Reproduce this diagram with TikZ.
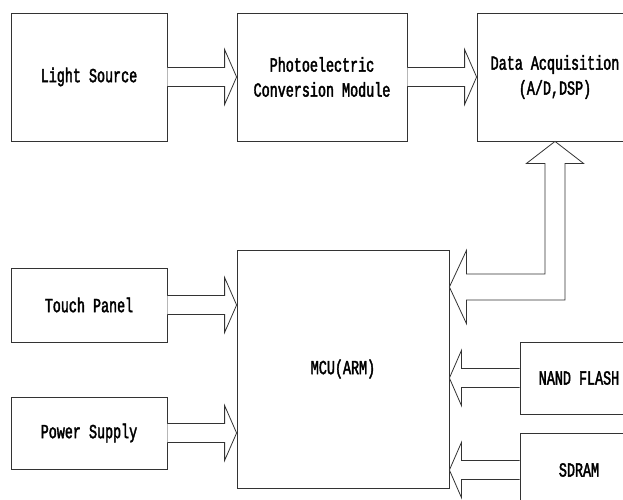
\documentclass[tikz,border=0pt]{standalone}
\usepackage{fontspec}
\newfontfamily\diafont[FakeStretch=0.67, FakeBold=2]{Liberation Mono}
\usetikzlibrary{calc}
\tikzset{
  box/.style={draw=black!80, line width=0.8pt, fill=white, inner sep=0pt, align=center},
  blk/.style={draw=black!80, line width=0.8pt, fill=white, line join=miter},
  lbl/.style={font=\diafont\fontsize{20}{25}\selectfont, align=center, inner sep=0pt}
}
% horizontal block arrow: #1 start, #2 tip
\newcommand\harr[2]{%
  \draw[blk] let \p1=(#1), \p2=(#2), \n1={sign(\x2-\x1)} in
    (\x1,\y2+9.5pt) -- ({\x2-12pt*\n1},\y2+9.5pt) -- ({\x2-12pt*\n1},\y2+27.5pt) --
    (\x2,\y2) -- ({\x2-12pt*\n1},\y2-27.5pt) -- ({\x2-12pt*\n1},\y2-9.5pt) --
    (\x1,\y2-9.5pt);}
\begin{document}
\begin{tikzpicture}[x=1pt,y=-1pt]
\useasboundingbox (0,0) rectangle (623,500);
\clip (0,0) rectangle (623,500);
% boxes
\node[box, minimum width=156, minimum height=128] (ls) at (89,77) {};
\node[lbl] at (ls.center) {Light Source};
\node[box, minimum width=170, minimum height=128] (pe) at (322,77) {};
\node[lbl] at (pe.center) {Photoelectric\\Conversion Module};
\node[box, minimum width=156, minimum height=128] (da) at (555,77) {};
\node[lbl] at (da.center) {Data Acquisition\\(A/D,DSP)};
\node[box, minimum width=156, minimum height=74] (tp) at (89,305) {};
\node[lbl] at (tp.center) {Touch Panel};
\node[box, minimum width=156, minimum height=72] (ps) at (89,433) {};
\node[lbl] at (ps.center) {Power Supply};
\node[box, minimum width=212, minimum height=238] (mcu) at (343,369) {};
\node[lbl] at (mcu.center) {MCU(ARM)};
\node[box, minimum width=118, minimum height=72] (nf) at (579,378) {};
\node[lbl] at (nf.center) {NAND FLASH};
\node[box, minimum width=118, minimum height=74] (sd) at (579,470) {};
\node[lbl] at (sd.center) {SDRAM};
% arrows
\harr{ls.east}{pe.west}
\harr{pe.east}{da.west}
\harr{tp.east}{mcu.west |- tp.east}
\harr{ps.east}{mcu.west |- ps.east}
\harr{nf.west}{mcu.east |- nf.west}
\harr{sd.west}{mcu.east |- sd.west}
% L-shaped arrow between MCU and data acquisition
\coordinate (mtip) at (mcu.east |- 0,287);
\draw[blk] let \p1=(da.south), \p2=(mtip) in
  (\x2+17pt,\y2+13pt) -- (\x1-10pt,\y2+13pt) -- (\x1-10pt,\y1-22pt) -- (\x1-28.5pt,\y1-22pt) --
  (da.south) -- (\x1+28.5pt,\y1-22pt) -- (\x1+10pt,\y1-22pt) -- (\x1+10pt,\y2-13pt) --
  (\x2+17pt,\y2-13pt) -- (\x2+17pt,\y2-36.5pt) -- (mtip) -- (\x2+17pt,\y2+36.5pt) -- cycle;
\end{tikzpicture}
\end{document}
